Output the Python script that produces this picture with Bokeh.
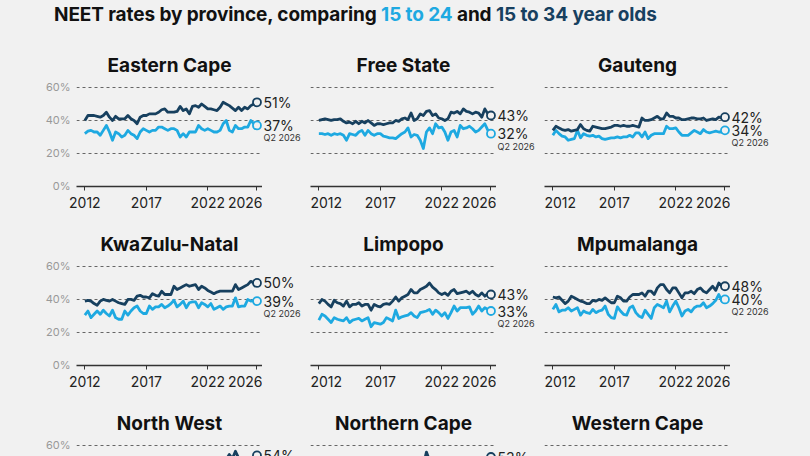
from bokeh.plotting import figure
from bokeh.layouts import column, row
from bokeh.models import Div, FixedTicker, ColumnDataSource, Range1d, LabelSet
from bokeh.core.properties import value
from bokeh.embed import file_html
from bokeh.resources import INLINE

# ---------------- data ----------------
START_YEAR = 2012
N_QUARTERS = 57
QUARTERS = [START_YEAR + i / 4 for i in range(N_QUARTERS)]
LATEST_LABEL = "Q2 2026"

X_TICKS = [2012, 2017, 2022, 2026]
X_TICK_LABELS = ["2012", "2017", "2022", "2026"]
Y_TICKS = [0, 20, 40, 60]
Y_TICK_LABELS = ["0%", "20%", "40%", "60%"]

PROVINCES = ["Eastern Cape", "Free State", "Gauteng",
             "KwaZulu-Natal", "Limpopo", "Mpumalanga",
             "North West", "Northern Cape", "Western Cape"]

EC_15_34 = [40, 43, 43, 43, 42.5, 42, 43, 45, 42, 40, 42.5, 41, 41, 41, 43, 41,
            40, 38, 42, 43, 43, 44, 44, 44, 45, 46.5, 47, 45, 45, 45, 45.5, 48.5,
            46, 47, 44, 48.5, 49, 48, 50, 48.5, 47, 47, 46.5, 46, 48, 51, 50, 49,
            47.5, 46, 48, 46, 48, 47, 49, 50, 51]
EC_15_24 = [32, 33.5, 34, 33, 33, 31, 34, 37, 33, 28, 33, 32, 30, 31, 34, 32,
            31, 29, 33, 35, 34, 33, 34, 34, 36, 36, 35, 34, 35, 35, 34, 30,
            32, 30, 33, 33, 33, 37, 35, 34, 35, 34, 33, 33, 34, 38, 40, 34,
            33, 37, 35, 35, 36, 36, 40, 38, 37]

FS_15_34 = [40, 40.5, 41, 40.5, 40, 40.5, 40.5, 41, 39.5, 38.5, 39, 38, 39.5, 38, 39.5, 38.5,
            40, 38.5, 37, 38, 38, 37.5, 38, 38.5, 38.5, 40, 39.5, 41, 41.5, 40.5, 44.5, 40,
            41, 44, 43, 45.5, 46, 43, 44, 41.5, 41, 40, 41, 45, 44.5, 45.5, 44, 47,
            45.5, 45, 44, 45, 44.5, 42, 47, 44, 43]
FS_15_24 = [32, 32, 31.5, 32, 31, 32, 31.5, 32, 31, 28, 32, 31.5, 31, 33, 34, 31,
            34, 32, 31, 32, 32, 30.5, 30, 29.5, 29.5, 29, 30.5, 32, 33, 35.5, 30, 31.5,
            31, 28, 23, 33, 35.5, 32, 38, 35.5, 36, 33, 28, 33, 34, 30, 37, 35,
            35.5, 36.5, 35, 33, 34, 36, 38, 34, 32]

GT_15_34 = [34, 36.5, 35.5, 34.5, 34, 34.5, 33.5, 34, 34.5, 37.5, 35, 34, 33.5, 36.5, 36, 35.5,
            35, 35, 35.5, 36, 37, 37, 36.5, 37, 36.5, 36.5, 37, 36.5, 36, 41.5, 40, 40,
            40.5, 41.5, 42.5, 41, 41, 44.5, 42.5, 42.5, 41.5, 41.5, 40.5, 40.5, 41, 41.5, 41.5, 41,
            41, 41.5, 40, 40.5, 41, 40.5, 42, 41.5, 42]
GT_15_24 = [31, 34, 32, 30.5, 30, 28, 28.5, 29, 34, 29.5, 32, 31, 30.5, 31, 30, 30.5,
            29, 28.5, 29, 29.5, 29.5, 30, 29.5, 30, 30, 31, 30, 32.5, 32.5, 30, 33, 29,
            31, 32, 32, 32, 32, 36.5, 35, 35, 35.5, 33, 31, 31, 31, 32.5, 34, 33,
            32, 34.5, 33, 32.5, 33, 33.5, 33, 33, 34]

KZN_15_34 = [39, 39.5, 39, 37.5, 36.5, 39, 40, 39.5, 39, 40, 39, 38, 37.5, 37, 40, 40,
             39.5, 42, 42.5, 41.5, 41.5, 41, 43.5, 42.5, 42, 45, 43, 43, 43, 48, 46, 47,
             48, 49, 48, 48.5, 49, 46, 48, 47, 45.5, 44.5, 43.5, 44.5, 45, 45, 45, 45,
             45, 49, 46, 47, 48, 49, 51, 50, 50]
KZN_15_24 = [30.5, 33, 29, 31, 33, 31, 33.5, 31.5, 30, 33.5, 29, 28, 28, 33, 30.5, 33,
             35, 36, 33, 31.5, 31.5, 36, 34, 35.5, 35.5, 37, 35, 36, 37.5, 39.5, 35.5, 37,
             39, 35, 38, 38.5, 38.5, 35, 38, 37, 35.5, 37.5, 34, 35, 36, 34, 35.5, 36,
             36, 41, 35.5, 36, 36, 40, 39, 39.5, 39]

LP_15_34 = [37.5, 40, 39, 37, 35.5, 39.5, 38, 37.5, 36, 39, 35.5, 37, 37, 38, 36, 37,
            37, 33.5, 37, 36, 35.5, 37, 37.5, 37, 39, 41.5, 39, 41, 42, 43, 46, 44,
            44, 46, 47, 48, 50, 47.5, 46, 44, 43, 44, 42.5, 45, 46, 43.5, 44, 44.5,
            45, 43.5, 45, 43, 42, 44, 42, 43.5, 43]
LP_15_24 = [27.5, 31, 30, 28, 26, 29, 28, 27.5, 27, 29, 26, 27.5, 28, 28.5, 27, 28,
            29, 23.5, 26, 25.5, 25, 26, 29, 28, 27, 33.5, 28.5, 29.5, 30, 30.5, 32, 30,
            29, 32, 32.5, 33, 34, 31, 33.5, 32, 30, 32, 28.5, 32, 36, 33, 35, 35,
            35, 35.5, 31, 33, 36, 33, 35, 34, 33]

MP_15_34 = [41.5, 41, 41.5, 39.5, 37.5, 39, 42, 41, 40, 39, 38.5, 37.5, 37.5, 39.5, 39, 40,
            39.5, 41, 39.5, 38, 38, 42, 41, 39, 39, 41.5, 43, 43, 43, 44, 42, 45,
            45, 43, 47, 49, 49, 46, 44, 47, 47, 44, 41, 44, 44, 45, 43.5, 46,
            47, 45, 44, 46, 48, 45.5, 50, 48, 48]
MP_15_24 = [34, 37, 32.5, 33.5, 33.5, 35, 33, 34, 35, 30.5, 33, 32, 31.5, 34, 32, 33,
            33.5, 36, 31, 29, 28.5, 35.5, 33, 31, 30.5, 35, 36, 32, 30, 29, 33.5, 31,
            28.5, 35, 37, 36, 35, 39, 32.5, 36, 39, 35, 30, 33, 34, 32.5, 35, 36,
            36, 38, 35, 36, 37.5, 39.5, 43, 39, 40]

NW_15_34 = [46, 47, 45, 46, 47, 45, 46, 48, 46, 45, 47, 46, 45, 47, 46, 48,
            47, 46, 48, 47, 48, 47, 49, 48, 47, 49, 48, 50, 49, 51, 50, 49,
            50, 48, 52, 51, 52, 50, 51, 52.5, 51, 52, 50, 52, 51, 52, 51.5, 54.5,
            52, 56.5, 52.5, 51.5, 52, 51, 52.5, 52, 54]
NW_15_24 = [38, 40, 37, 39, 40, 37, 39, 41, 38, 37, 40, 38, 37, 40, 38, 41,
            39, 38, 41, 39, 40, 39, 42, 40, 39, 42, 40, 43, 41, 44, 42, 41,
            43, 40, 45, 43, 45, 42, 44, 45, 43, 45, 42, 44, 43, 45, 44, 47,
            44, 48, 45, 43, 44, 43, 45, 44, 46]

NC_15_34 = [44, 46, 45, 43, 45, 44, 46, 45, 43, 45, 44, 46, 45, 47, 44, 46,
            45, 44, 47, 46, 47, 45, 48, 46, 47, 49, 46, 48, 49, 47, 50, 48,
            49, 50, 48, 56, 51, 50, 52, 49, 50, 48, 51, 50, 49, 51, 50, 48,
            50, 52, 49, 51, 50, 52, 51, 50.5, 53]
NC_15_24 = [37, 39, 38, 36, 38, 36, 39, 37, 35, 38, 36, 39, 37, 40, 36, 38,
            37, 36, 40, 38, 39, 37, 41, 38, 39, 42, 38, 40, 41, 39, 43, 40,
            41, 43, 40, 47, 43, 42, 45, 41, 42, 40, 44, 42, 41, 44, 42, 40,
            42, 45, 41, 43, 42, 44, 43, 42, 44]

WC_15_34 = [34, 35, 33, 34, 35, 33, 34, 35, 33, 34, 35, 33, 34, 36, 34, 35,
            36, 34, 35, 37, 35, 36, 34, 36, 35, 37, 36, 35, 36, 38, 36, 37,
            37, 35, 39, 38, 38, 37, 39, 37, 36, 38, 37, 36, 37, 38, 36, 37,
            36, 38, 37, 36, 37, 36, 38, 37, 36]
WC_15_24 = [29, 30, 28, 29, 30, 28, 29, 31, 28, 29, 30, 28, 29, 31, 29, 30,
            31, 29, 30, 32, 30, 31, 29, 31, 30, 32, 31, 30, 31, 33, 31, 32,
            32, 30, 34, 33, 33, 32, 34, 32, 31, 33, 32, 31, 32, 33, 31, 32,
            31, 33, 32, 31, 32, 31, 33, 32, 31]

SERIES_15_34 = [EC_15_34, FS_15_34, GT_15_34, KZN_15_34, LP_15_34, MP_15_34,
                NW_15_34, NC_15_34, WC_15_34]
SERIES_15_24 = [EC_15_24, FS_15_24, GT_15_24, KZN_15_24, LP_15_24, MP_15_24,
                NW_15_24, NC_15_24, WC_15_24]

# ---------------- style ----------------
BG = "#f1f1f1"
LIGHT = "#1ea9e1"
DARK = "#17405f"
FONT = "Inter"
PX_PER_PCT = 1.65          # vertical scale shared by all panels
Y_TOP = 61.8
FRAME_W = 186
LABEL_W = 48
TOP = 42                   # space above each frame (panel title)
ROW_H = 179
LINE_W = 2.8


def make_panel(name, v34, v24, first_col, truncated):
    left = 76 if first_col else 0
    frame_h = 14 if truncated else 102
    bottom = 0 if truncated else ROW_H - TOP - frame_h
    height = TOP + frame_h + bottom
    y_range = Range1d(Y_TOP - frame_h / PX_PER_PCT, Y_TOP)

    p = figure(width=left + FRAME_W, height=height,
               x_range=Range1d(2011.32, 2026.45), y_range=y_range,
               output_backend="svg", toolbar_location=None, title=name,
               min_border_left=left, min_border_right=0,
               min_border_top=TOP, min_border_bottom=bottom)
    p.background_fill_color = BG
    p.border_fill_color = BG
    p.outline_line_color = None

    p.title.align = "center"
    p.title.text_font = FONT
    p.title.text_font_size = "19px"
    p.title.text_font_style = "bold"
    p.title.text_color = "#111111"
    p.title.standoff = 16

    p.xaxis.ticker = FixedTicker(ticks=X_TICKS)
    p.xaxis.major_label_overrides = dict(zip(X_TICKS, X_TICK_LABELS))
    p.xaxis.axis_line_color = "#333333"
    p.xaxis.axis_line_width = 1.5
    p.xaxis.major_tick_line_color = "#333333"
    p.xaxis.major_tick_out = 4
    p.xaxis.major_tick_in = 0
    p.xaxis.minor_tick_line_color = None
    p.xaxis.major_label_standoff = 6
    p.xaxis.major_label_text_font = FONT
    p.xaxis.major_label_text_font_size = "14px"
    p.xaxis.major_label_text_color = "#222222"
    if truncated:
        p.xaxis.visible = False

    p.yaxis.ticker = FixedTicker(ticks=Y_TICKS)
    p.yaxis.major_label_overrides = dict(zip(Y_TICKS, Y_TICK_LABELS))
    p.yaxis.axis_line_color = None
    p.yaxis.major_tick_line_color = None
    p.yaxis.major_tick_out = 0
    p.yaxis.major_tick_in = 0
    p.yaxis.minor_tick_line_color = None
    p.yaxis.minor_tick_out = 0
    p.yaxis.major_label_standoff = 6
    p.yaxis.major_label_text_font = FONT
    p.yaxis.major_label_text_font_size = "11px"
    p.yaxis.major_label_text_color = "#999999"
    if not first_col:
        p.yaxis.visible = False

    p.xgrid.grid_line_color = None
    p.ygrid.ticker = FixedTicker(ticks=Y_TICKS[1:])
    p.ygrid.grid_line_color = "#666666"
    p.ygrid.grid_line_dash = "3 3"
    p.ygrid.grid_line_width = 1

    src = ColumnDataSource(dict(x=QUARTERS, y34=v34, y24=v24))
    p.line("x", "y24", source=src, line_color=LIGHT, line_width=LINE_W, line_join="round")
    p.line("x", "y34", source=src, line_color=DARK, line_width=LINE_W, line_join="round")

    lx = QUARTERS[-1]
    p.scatter([lx], [v24[-1]], size=8, fill_color=BG, line_color=LIGHT, line_width=1.8)
    p.scatter([lx], [v34[-1]], size=8, fill_color=BG, line_color=DARK, line_width=1.8)

    # side strip with the latest-value labels, sharing the panel's y scale
    s = figure(width=LABEL_W, height=height, x_range=Range1d(0, LABEL_W), y_range=y_range,
               x_axis_type=None, y_axis_type=None,
               output_backend="svg", toolbar_location=None,
               min_border_left=0, min_border_right=0,
               min_border_top=TOP, min_border_bottom=bottom)
    s.background_fill_color = BG
    s.border_fill_color = BG
    s.outline_line_color = None

    lab = ColumnDataSource(dict(x=[0, 0], y=[v34[-1], v24[-1]],
                                t=[f"{v34[-1]:.0f}%", f"{v24[-1]:.0f}%"]))
    s.add_layout(LabelSet(x="x", y="y", text="t", source=lab, x_offset=1,
                          text_baseline="middle", text_font=value(FONT),
                          text_font_size="14px", text_color="#222222"))
    if not truncated:
        low = min(v34[-1], v24[-1])
        q = ColumnDataSource(dict(x=[0], y=[low], t=[LATEST_LABEL]))
        s.add_layout(LabelSet(x="x", y="y", text="t", source=q, x_offset=1, y_offset=-7,
                              text_baseline="top", text_font=value(FONT),
                              text_font_size="9px", text_color="#333333"))
    return row(p, s)


panels = [make_panel(n, a, b, i % 3 == 0, i >= 6)
          for i, (n, a, b) in enumerate(zip(PROVINCES, SERIES_15_34, SERIES_15_24))]

title_html = (
    f'<div style="position:relative; top:3px; left:54px; margin:0; padding:0; '
    f'white-space:nowrap; line-height:23px; letter-spacing:-0.1px; '
    f'font-family:{FONT}; font-size:19px; font-weight:700; color:#111111;">'
    f'NEET rates by province, comparing <span style="color:{LIGHT}">15 to 24</span> '
    f'and <span style="color:{DARK}">15 to 34 year olds</span></div>'
)
header = Div(text=title_html, width=778, height=42, margin=0)

layout = column(header,
                row(*panels[0:3]),
                row(*panels[3:6]),
                row(*panels[6:9]),
                styles={"background-color": BG})

TEMPLATE = ("{% block preamble %}<style>html, body { background-color: " + BG +
            "; margin: 0 !important; padding: 0 !important; }</style>{% endblock %}")
open("out.html", "w").write(file_html(layout, INLINE, template=TEMPLATE))
